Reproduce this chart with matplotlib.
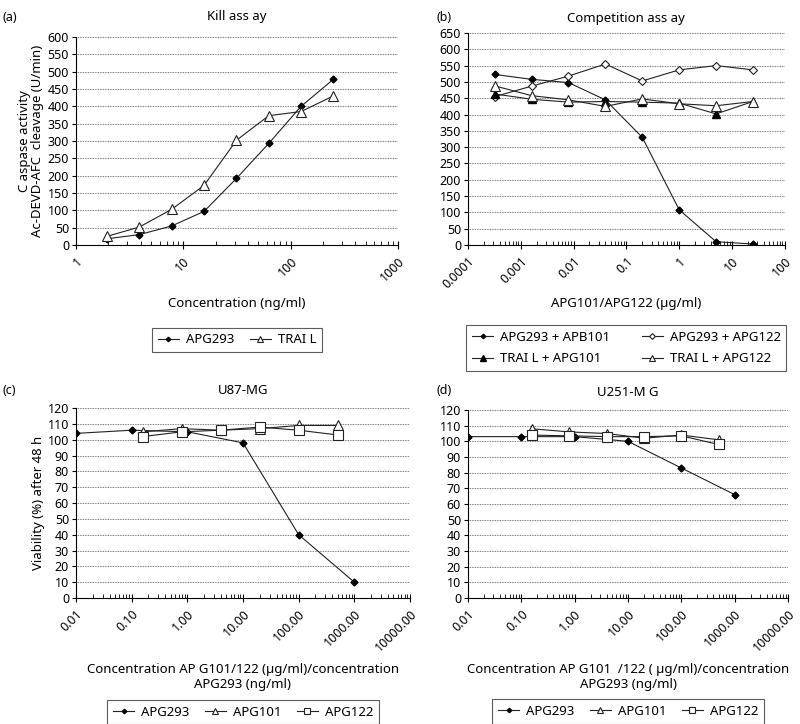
import matplotlib
matplotlib.use('Agg')
import matplotlib.pyplot as plt
import numpy as np

plt.rcParams['font.family'] = ['Noto Sans', 'DejaVu Sans']
plt.rcParams['font.size'] = 8.5

# ---- panel (a): kill assay ----
kill_conc = [1.95, 3.9, 7.8, 15.6, 31.25, 62.5, 125, 250]
kill_apg293 = [18, 30, 55, 97, 192, 293, 400, 478]
kill_trail = [25, 52, 103, 172, 302, 373, 385, 430]

# ---- panel (b): competition assay ----
comp_conc = [0.00032, 0.0016, 0.008, 0.04, 0.2, 1.0, 5.0, 25.0]
comp_293_b101 = [523, 508, 498, 445, 330, 108, 10, 3]
comp_293_g122 = [455, 487, 518, 555, 503, 537, 550, 537]
comp_trail_g101 = [463, 447, 438, 440, 438, 435, 402, 440]
comp_trail_g122 = [488, 458, 445, 425, 448, 433, 427, 440]

# ---- panels (c) and (d): viability ----
via_conc_293 = [0.01, 0.1, 1.0, 10.0, 100.0, 1000.0]
via_conc_ab = [0.16, 0.8, 4.0, 20.0, 100.0, 500.0]
u87_apg293 = [104, 106, 105, 98, 40, 10]
u87_apg101 = [105, 107, 106, 107, 109, 109]
u87_apg122 = [102, 105, 106, 108, 106, 103]
u251_apg293 = [103, 103, 103, 100, 83, 66]
u251_apg101 = [108, 106, 105, 102, 104, 101]
u251_apg122 = [104, 103.5, 103, 103, 103.5, 98]

LC = '#222222'
sty = {
    'fdia': dict(marker='D', ms=3.5, mfc='black', mec='black'),
    'odia': dict(marker='D', ms=4.5, mfc='white', mec=LC, mew=0.8),
    'ftri': dict(marker='^', ms=6, mfc='black', mec='black'),
    'otri': dict(marker='^', ms=6.5, mfc='white', mec=LC, mew=0.8),
    'osq': dict(marker='s', ms=6.5, mfc='white', mec=LC, mew=0.8),
}


def style_axes(ax, xlim, ylim, ystep, xticks, xlabels):
    ax.set_xscale('log')
    ax.set_xlim(*xlim)
    ax.set_ylim(*ylim)
    ax.set_yticks(np.arange(ylim[0], ylim[1] + 1, ystep))
    ax.yaxis.grid(True, linestyle=(0, (1, 1)), color='#555555', linewidth=0.6)
    ax.set_axisbelow(True)
    for s in ['top', 'right']:
        ax.spines[s].set_visible(False)
    for s in ['left', 'bottom']:
        ax.spines[s].set_linewidth(0.8)
    ax.set_xticks(xticks)
    ax.set_xticklabels(xlabels, rotation=45, ha='right', rotation_mode='anchor')
    ax.tick_params(axis='x', which='major', direction='inout', length=6, width=0.8, pad=4)
    ax.tick_params(axis='x', which='minor', direction='in', length=3, width=0.6)
    ax.tick_params(axis='y', length=3, width=0.8, pad=2)
    ax.tick_params(labelsize=9)


def draw(ax, x, y, key, label):
    return ax.plot(x, y, color=LC, lw=0.8, label=label, **sty[key])[0]


def legend(ax, handles, anchor, ncol, colsp, lsp=0.5):
    leg = ax.legend(handles=handles, loc='upper center', bbox_to_anchor=anchor,
                    ncol=ncol, frameon=True, fancybox=False, edgecolor='#333333',
                    handlelength=1.6, fontsize=9.5, columnspacing=colsp,
                    borderpad=0.45, handletextpad=0.5, labelspacing=lsp,
                    markerscale=0.65)
    leg.get_frame().set_linewidth(0.8)
    return leg


fig = plt.figure(figsize=(8.0, 7.24), dpi=100)

# (a)
ax = fig.add_axes([0.095, 0.6616, 0.4025, 0.2873])
h1 = draw(ax, kill_conc, kill_apg293, 'fdia', 'APG293')
h2 = draw(ax, kill_conc, kill_trail, 'otri', 'TRAI L')
style_axes(ax, (1, 1000), (0, 600), 50, [1, 10, 100, 1000], ['1', '10', '100', '1000'])
ax.set_title('Kill ass ay', fontsize=9.5, pad=12)
ax.set_ylabel('C aspase activity\nAc-DEVD-AFC  cleavage (U/min)', fontsize=9.5,
              labelpad=3, linespacing=0.95)
ax.set_xlabel('Concentration (ng/ml)', fontsize=9.5, labelpad=9)
legend(ax, [h1, h2], (0.5, -0.365), 2, 1.2)
fig.text(0.003, 0.985, '(a)', fontsize=9, va='top')

# (b)
ax = fig.add_axes([0.585, 0.6616, 0.396, 0.2928])
h1 = draw(ax, comp_conc, comp_293_b101, 'fdia', 'APG293 + APB101')
h2 = draw(ax, comp_conc, comp_293_g122, 'odia', 'APG293 + APG122')
h3 = draw(ax, comp_conc, comp_trail_g101, 'ftri', 'TRAI L + APG101')
h4 = draw(ax, comp_conc, comp_trail_g122, 'otri', 'TRAI L + APG122')
style_axes(ax, (0.0001, 100), (0, 650), 50,
           [0.0001, 0.001, 0.01, 0.1, 1, 10, 100],
           ['0.0001', '0.001', '0.01', '0.1', '1', '10', '100'])
ax.set_title('Competition ass ay', fontsize=9.5, pad=8)
ax.set_xlabel('APG101/APG122 (µg/ml)', fontsize=9.5, labelpad=4)
legend(ax, [h1, h3, h2, h4], (0.5, -0.345), 2, 2.4, lsp=0.65)
fig.text(0.546, 0.985, '(b)', fontsize=9, va='top')

via_ticks = [0.01, 0.1, 1, 10, 100, 1000, 10000]
via_labels = ['0.01', '0.10', '1.00', '10.00', '100.00', '1000.00', '10000.00']

# (c)
ax = fig.add_axes([0.095, 0.174, 0.4175, 0.2624])
h1 = draw(ax, via_conc_293, u87_apg293, 'fdia', 'APG293')
h2 = draw(ax, via_conc_ab, u87_apg101, 'otri', 'APG101')
h3 = draw(ax, via_conc_ab, u87_apg122, 'osq', 'APG122')
style_axes(ax, (0.01, 10000), (0, 120), 10, via_ticks, via_labels)
ax.set_title('U87-MG', fontsize=9.5, pad=10)
ax.set_ylabel('Viability (%) after 48 h', fontsize=9.5, labelpad=2)
ax.set_xlabel('Concentration AP G101/122 (µg/ml)/concentration\nAPG293 (ng/ml)',
              fontsize=9.5, labelpad=6)
legend(ax, [h1, h2, h3], (0.5, -0.5), 3, 1.2, lsp=0.4)
fig.text(0.003, 0.47, '(c)', fontsize=9, va='top')

# (d)
ax = fig.add_axes([0.585, 0.174, 0.4, 0.2597])
h1 = draw(ax, via_conc_293, u251_apg293, 'fdia', 'APG293')
h2 = draw(ax, via_conc_ab, u251_apg101, 'otri', 'APG101')
h3 = draw(ax, via_conc_ab, u251_apg122, 'osq', 'APG122')
style_axes(ax, (0.01, 10000), (0, 120), 10, via_ticks, via_labels)
ax.set_title('U251-M G', fontsize=9.5, pad=10)
ax.set_xlabel('Concentration AP G101  /122 ( µg/ml)/concentration\nAPG293 (ng/ml)',
              fontsize=9.5, labelpad=6)
legend(ax, [h1, h2, h3], (0.5, -0.5), 3, 1.2, lsp=0.4)
fig.text(0.545, 0.47, '(d)', fontsize=9, va='top')

fig.savefig('out.png', dpi=100, facecolor='white')
